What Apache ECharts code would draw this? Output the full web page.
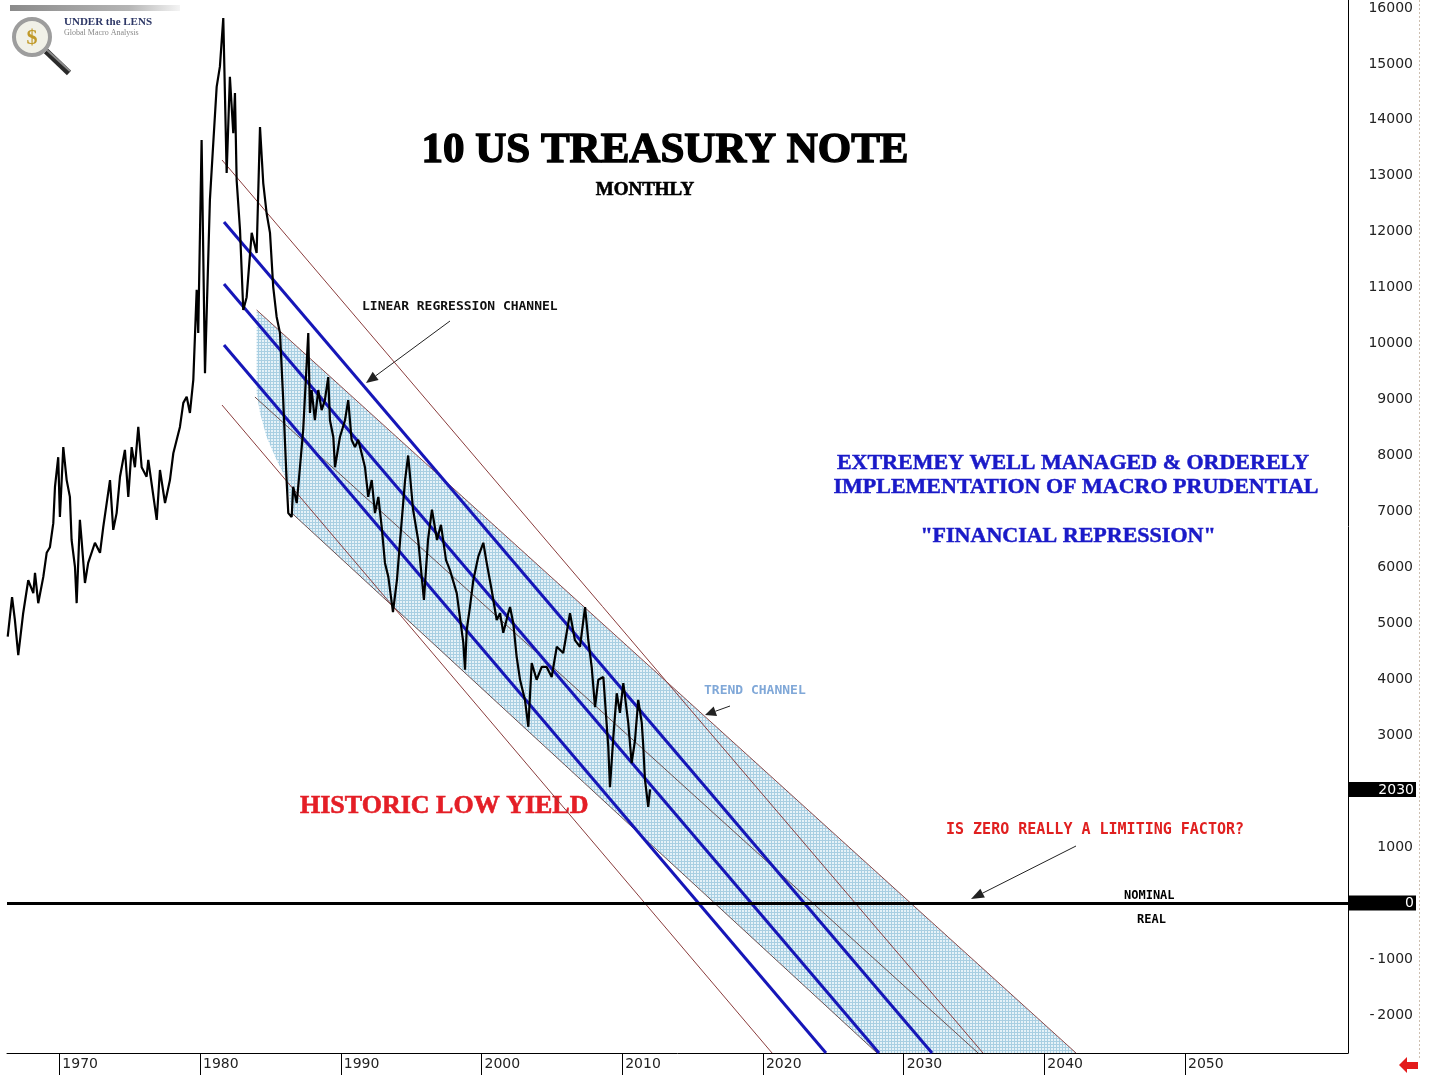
<!DOCTYPE html>
<html><head><meta charset="utf-8">
<script src="https://cdn.jsdelivr.net/npm/echarts@6/dist/echarts.min.js"></script>
<style>html,body{margin:0;padding:0;background:#fff}#chart{width:1429px;height:1077px}</style>
</head><body><div id="chart"></div>
<script>
// ---------- DATA ----------
const xTickYears = [1970,1980,1990,2000,2010,2020,2030,2040,2050];
const yTickValues = [-2000,-1000,0,1000,3000,4000,5000,6000,7000,8000,9000,10000,11000,12000,13000,14000,15000,16000];

const priceDates = [1966.33,1966.64,1966.84,1967.08,1967.43,1967.79,1968.15,1968.27,1968.50,1968.86,
1969.10,1969.33,1969.57,1969.69,1969.92,1970.04,1970.28,1970.52,1970.75,1970.87,
1971.11,1971.23,1971.46,1971.58,1971.82,1972.05,1972.53,1972.89,1973.12,1973.60,
1973.83,1974.07,1974.31,1974.66,1974.90,1975.14,1975.37,1975.61,1975.85,1976.20,
1976.32,1976.92,1977.15,1977.51,1977.86,1978.10,1978.57,1978.81,1979.05,1979.28,
1979.52,1979.76,1979.87,1980.11,1980.35,1980.70,1980.94,1981.18,1981.41,1981.65,
1981.89,1982.12,1982.36,1982.48,1982.60,1982.84,1983.07,1983.31,1983.67,1984.02,
1984.26,1984.49,1984.73,1984.97,1985.20,1985.44,1985.68,1985.91,1986.15,1986.27,
1986.51,1986.62,1986.87,1987.10,1987.33,1987.69,1987.81,1987.93,1988.16,1988.40,
1988.64,1988.87,1989.11,1989.23,1989.47,1989.59,1989.94,1990.30,1990.53,1990.77,
1991.01,1991.24,1991.48,1991.72,1991.95,1992.20,1992.43,1992.67,1992.91,1993.14,
1993.38,1993.71,1993.99,1994.22,1994.57,1994.79,1995.14,1995.50,1995.91,1996.20,
1996.48,1996.84,1997.12,1997.48,1997.76,1998.24,1998.71,1998.83,1998.95,1999.18,
1999.42,1999.77,2000.13,2000.37,2000.72,2001.08,2001.32,2001.55,2001.90,2002.03,
2002.26,2002.50,2002.74,2003.09,2003.33,2003.57,2003.92,2004.28,2004.63,2004.99,
2005.35,2005.81,2006.29,2006.64,2007.00,2007.36,2007.59,2007.83,2008.07,2008.30,
2008.66,2009.01,2009.13,2009.37,2009.61,2009.84,2010.08,2010.43,2010.67,2010.91,
2011.14,2011.39,2011.50,2011.62,2011.85,2011.98];
const priceValues = [4760,5470,5060,4430,5180,5770,5540,5900,5360,5830,
6260,6360,6790,7440,7970,6900,8150,7560,7260,6490,
6010,5360,6850,6490,5720,6080,6440,6260,6720,7560,
6670,6970,7620,8100,7260,8150,7790,8510,7790,7620,
7920,6850,7740,7150,7560,8040,8510,8940,9050,8760,
9350,10960,10190,13640,9470,12570,13590,14590,14950,15820,
13050,14770,13760,14480,12920,12030,10600,10830,11980,11620,
13870,12870,12330,11980,11010,10480,10190,8990,7560,6970,
6900,7440,7150,7790,8460,10190,8760,9170,8630,9170,
8810,8990,9400,8630,8330,7790,8330,8630,8990,8280,
8150,8280,8040,7790,7260,7560,6970,7260,6720,6080,
5830,5200,5770,6490,7560,8000,7030,6490,5420,6490,
7030,6490,6760,6130,5950,5540,4650,4170,4880,5290,
5770,6190,6440,6080,5600,5060,5180,4830,5180,5290,
5000,4400,3990,3630,3150,4290,3990,4220,4220,4040,
4580,4470,5180,4700,4580,5290,4700,4220,3500,3990,
4040,2790,2070,2970,3750,3400,3930,3220,2500,2910,
3630,3220,2790,2200,1720,2030];
const lastValue = 2030;

// Linear regression channel (start / end points: [year, value])
const regOuterUpper = [[1981.56, 13282], [2035.64, -2681]];
const regUpper      = [[1981.70, 12174], [2032.02, -2681]];
const regMiddle     = [[1981.70, 11065], [2028.25, -2681]];
const regLower      = [[1981.70, 9975],  [2024.48, -2681]];
const regOuterLower = [[1981.56, 8902],  [2020.65, -2681]];

// Trend channel
const trendUpper  = [[1984.02, 10601], [2042.25, -2681]];
const trendMiddle = [[1983.90, 9045],  [2035.29, -2681]];
const trendLower  = [[1986.51, 6972],  [2028.11, -2681]];
const trendLeftEdge = [[1986.15, 7562], [1985.44, 7919], [1984.73, 8330], [1984.26, 8759], [1984.02, 9117]];

// ---------- CHART ----------
const chart = echarts.init(document.getElementById('chart'), null, {renderer: 'canvas'});

const pc = document.createElement('canvas'); pc.width = 3; pc.height = 3;
const g = pc.getContext('2d');
g.fillStyle = '#e6f2f8'; g.fillRect(0, 0, 3, 3);
g.fillStyle = '#a9cfe2'; g.fillRect(0, 0, 3, 1); g.fillRect(0, 0, 1, 3);

const fillPoly = [trendUpper[0], trendUpper[1], trendLower[1], trendLower[0]].concat(trendLeftEdge);

function seg(data, color, width, z) {
  return {type: 'line', data: data, symbol: 'none', silent: true, clip: true, z: z,
          lineStyle: {color: color, width: width}, animation: false};
}

function arrow(x1, y1, x2, y2, color, len, w) {
  const a = Math.atan2(y2 - y1, x2 - x1);
  const bx = x2 - len * Math.cos(a), by = y2 - len * Math.sin(a);
  const px = -Math.sin(a) * w, py = Math.cos(a) * w;
  return [
    {type: 'line', shape: {x1: x1, y1: y1, x2: bx, y2: by}, style: {stroke: color, lineWidth: 1}},
    {type: 'polygon', shape: {points: [[x2, y2], [bx + px, by + py], [bx - px, by - py]]}, style: {fill: color}}
  ];
}

const serif = 'Liberation Serif';
const mono = 'DejaVu Sans Mono';

const graphics = [
  // logo
  {type: 'rect', shape: {x: 10, y: 5, width: 170, height: 6},
   style: {fill: new echarts.graphic.LinearGradient(0, 0, 1, 0, [{offset: 0, color: '#8a8a8a'}, {offset: 0.7, color: '#b5b5b5'}, {offset: 1, color: '#f4f4f4'}])}},
  {type: 'line', shape: {x1: 46, y1: 51, x2: 69, y2: 73}, style: {stroke: '#2a2a2a', lineWidth: 6}},
  {type: 'line', shape: {x1: 47, y1: 50, x2: 70, y2: 71}, style: {stroke: '#8a8a8a', lineWidth: 2}},
  {type: 'circle', shape: {cx: 32, cy: 37, r: 18}, style: {fill: '#f1f1e8', stroke: '#9d9d9d', lineWidth: 4}},
  {type: 'text', x: 32, y: 38, style: {text: '$', fill: '#c19a2a', font: 'bold 22px ' + serif, align: 'center', verticalAlign: 'middle'}},
  {type: 'text', x: 64, y: 22, style: {text: 'UNDER the LENS', fill: '#2d3766', font: 'bold 11px ' + serif, verticalAlign: 'middle'}},
  {type: 'text', x: 64, y: 33, style: {text: 'Global Macro Analysis', fill: '#888', font: '8px ' + serif, verticalAlign: 'middle'}},
  // titles
  {type: 'text', x: 665, y: 151, style: {text: '10 US TREASURY NOTE', fill: '#000', stroke: '#000', lineWidth: 1.4, font: 'bold 43px ' + serif, align: 'center', verticalAlign: 'middle'}},
  {type: 'text', x: 645, y: 190, style: {text: 'MONTHLY', fill: '#000', stroke: '#000', lineWidth: 0.6, font: 'bold 19px ' + serif, align: 'center', verticalAlign: 'middle'}},
  // annotations
  {type: 'text', x: 362, y: 307, style: {text: 'LINEAR REGRESSION CHANNEL', fill: '#111', font: 'bold 13px ' + mono, verticalAlign: 'middle'}},
  {type: 'text', x: 704, y: 691, style: {text: 'TREND CHANNEL', fill: '#80a8d8', font: 'bold 13px ' + mono, verticalAlign: 'middle'}},
  {type: 'text', x: 1073, y: 463, style: {text: 'EXTREMEY WELL MANAGED & ORDERELY', fill: '#1a1ac8', stroke: '#1a1ac8', lineWidth: 0.5, font: 'bold 22px ' + serif, align: 'center', verticalAlign: 'middle'}},
  {type: 'text', x: 1076, y: 487, style: {text: 'IMPLEMENTATION OF MACRO PRUDENTIAL', fill: '#1a1ac8', stroke: '#1a1ac8', lineWidth: 0.5, font: 'bold 22px ' + serif, align: 'center', verticalAlign: 'middle'}},
  {type: 'text', x: 1068, y: 536, style: {text: '"FINANCIAL REPRESSION"', fill: '#1a1ac8', stroke: '#1a1ac8', lineWidth: 0.5, font: 'bold 22px ' + serif, align: 'center', verticalAlign: 'middle'}},
  {type: 'text', x: 300, y: 806, style: {text: 'HISTORIC LOW YIELD', fill: '#e41e26', stroke: '#e41e26', lineWidth: 0.6, font: 'bold 26px ' + serif, verticalAlign: 'middle'}},
  {type: 'text', x: 946, y: 830, style: {text: 'IS ZERO REALLY A LIMITING FACTOR?', fill: '#e02020', font: 'bold 15px ' + mono, verticalAlign: 'middle'}},
  {type: 'text', x: 1124, y: 896, style: {text: 'NOMINAL', fill: '#000', font: 'bold 12px ' + mono, verticalAlign: 'middle'}},
  {type: 'text', x: 1137, y: 920, style: {text: 'REAL', fill: '#000', font: 'bold 12px ' + mono, verticalAlign: 'middle'}},
  // right dotted rule and red arrow
  {type: 'line', shape: {x1: 1419.5, y1: 0, x2: 1419.5, y2: 1060}, style: {stroke: '#cdbfb0', lineWidth: 1, lineDash: [2, 2]}},
  {type: 'polygon', shape: {points: [[1399, 1065], [1407, 1057], [1407, 1062], [1418, 1062], [1418, 1069], [1407, 1069], [1407, 1073]]}, style: {fill: '#e31b1b'}}
].concat(arrow(450, 321, 366, 383, '#222', 12, 5))
 .concat(arrow(730, 706, 705, 715, '#222', 11, 5))
 .concat(arrow(1076, 846, 971, 899, '#222', 13, 5));

const option = {
  animation: false,
  backgroundColor: '#fff',
  grid: {left: 7, right: 81, top: 0, bottom: 24, containLabel: false},
  xAxis: {
    type: 'value', min: 1966.28, max: 2061.58,
    axisLine: {show: true, onZero: false, lineStyle: {color: '#000', width: 1}},
    axisTick: {show: true, length: 22, inside: false, customValues: xTickYears, lineStyle: {color: '#000'}},
    axisLabel: {show: true, customValues: xTickYears, align: 'left', margin: 4, padding: [0, 0, 0, 3],
                color: '#222', fontSize: 14, fontFamily: 'DejaVu Sans', formatter: v => String(v)},
    splitLine: {show: false}
  },
  yAxis: {
    type: 'value', position: 'right', min: -2681, max: 16142,
    axisLine: {show: true, onZero: false, lineStyle: {color: '#000', width: 1}},
    axisTick: {show: false},
    splitLine: {show: false},
    axisLabel: {
      show: true, customValues: yTickValues.concat([lastValue]), align: 'right', margin: 68,
      formatter: v => (v === 0 || v === lastValue) ? '{hl|' + v + '}' : '{n|' + (v < 0 ? '-\u2009' + Math.abs(v) : v) + '}',
      rich: {
        n: {color: '#222', fontSize: 14, fontFamily: 'DejaVu Sans', padding: [0, 3, 0, 0]},
        hl: {color: '#fff', backgroundColor: '#000', fontSize: 14, fontFamily: 'DejaVu Sans', width: 66, height: 14, align: 'right', padding: [1, 2, 0, 0]}
      }
    }
  },
  series: [
    {
      type: 'custom', silent: true, clip: true, z: 1,
      data: fillPoly,
      renderItem: function (params, api) {
        if (params.dataIndex !== 0) return null;
        const pts = fillPoly.map(p => api.coord(p));
        return {type: 'polygon', shape: {points: pts}, style: {fill: {image: pc, repeat: 'repeat'}}};
      }
    },
    seg(trendUpper, '#8a4a4a', 1, 2),
    seg(trendMiddle, '#6e5050', 1, 2),
    seg(trendLower, '#6e5050', 1, 2),
    seg(regOuterUpper, '#8a3c3c', 1, 2),
    seg(regOuterLower, '#8a3c3c', 1, 2),
    seg(regUpper, '#1616b8', 3, 3),
    seg(regMiddle, '#1616b8', 3, 3),
    seg(regLower, '#1616b8', 3, 3),
    {
      type: 'line', data: priceDates.map((d, i) => [d, priceValues[i]]),
      symbol: 'none', silent: true, clip: true, z: 5,
      lineStyle: {color: '#000', width: 2.2},
      markLine: {silent: true, symbol: 'none', label: {show: false},
                 lineStyle: {color: '#000', width: 3, type: 'solid'}, data: [{yAxis: 0}]}
    }
  ],
  graphic: graphics
};
chart.setOption(option);
</script></body></html>
